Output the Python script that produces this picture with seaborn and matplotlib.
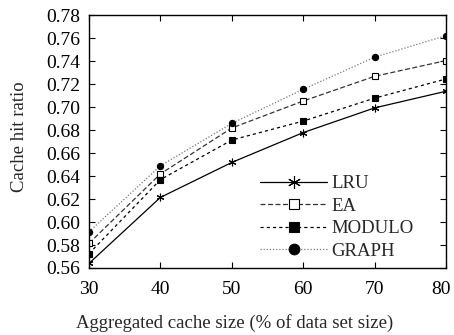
import numpy as np
import pandas as pd
import matplotlib
matplotlib.use("Agg")
import matplotlib.pyplot as plt
import matplotlib.transforms as mtransforms
import seaborn as sns

# data
cache_size = [30, 40, 50, 60, 70, 80]
lru = [0.564, 0.6215, 0.652, 0.678, 0.6995, 0.714]
ea = [0.5815, 0.642, 0.682, 0.7055, 0.727, 0.7407]
modulo = [0.5725, 0.637, 0.6715, 0.688, 0.708, 0.7247]
graph = [0.5915, 0.649, 0.686, 0.7157, 0.7437, 0.7624]

series_names = ["LRU", "EA", "MODULO", "GRAPH"]
series_values = [lru, ea, modulo, graph]

FS = 13.5

sns.set_style("ticks")
plt.rcParams["font.family"] = ["Liberation Serif", "DejaVu Serif"]
plt.rcParams["font.size"] = FS

df = pd.DataFrame({
    "size": np.tile(cache_size, len(series_names)),
    "ratio": np.concatenate(series_values),
    "policy": np.repeat(series_names, len(cache_size)),
})

fig = plt.figure(figsize=(4.54, 3.35), dpi=100)
ax = fig.add_axes([0.196, 0.2, 0.787, 0.754])

styles = {
    "LRU": dict(color="black", ls="-", marker=(6, 2, 0), mfc="black", ms=5.5, lw=0.9),
    "EA": dict(color="#333333", ls=(0, (4, 2)), marker="s", mfc="white", ms=4.5, lw=0.9),
    "MODULO": dict(color="black", ls=(0, (2.5, 2.5)), marker="s", mfc="black", ms=4.5, lw=0.9),
    "GRAPH": dict(color="#777777", ls=(0, (1, 1.5)), marker="o", mfc="black", ms=4.5, lw=0.9),
}

for name in series_names:
    st = styles[name]
    sub = df[df["policy"] == name]
    sns.lineplot(data=sub, x="size", y="ratio", ax=ax, label=name,
                 color=st["color"], linestyle=st["ls"], linewidth=st["lw"],
                 marker=st["marker"], markersize=st["ms"],
                 markerfacecolor=st["mfc"], markeredgecolor="black",
                 markeredgewidth=0.8)

ax.set_xlim(30, 80)
ax.set_ylim(0.56, 0.78)
ax.set_xticks(cache_size)
ax.set_yticks(np.arange(0.56, 0.7801, 0.02))
ax.yaxis.set_major_formatter(matplotlib.ticker.FormatStrFormatter("%.2f"))
ax.tick_params(direction="in", top=True, right=True, length=4, width=0.8,
               labelsize=14, colors="black")
ax.tick_params(axis="x", pad=9.5)
ax.tick_params(axis="y", pad=6.5)
for sp in ax.spines.values():
    sp.set_linewidth(1.0)
    sp.set_color("black")

# nudge the last x tick label left so it stays inside the canvas
last = ax.get_xticklabels()[-1]
last.set_transform(last.get_transform() +
                   mtransforms.ScaledTranslation(-4 / 72, 0, fig.dpi_scale_trans))

ax.set_xlabel("Aggregated cache size (% of data set size)", fontsize=FS)
ax.xaxis.set_label_coords(0.407, -0.182)
ax.set_ylabel("Cache hit ratio", fontsize=FS)
ax.yaxis.set_label_coords(-0.17, 0.518)

ax.legend(loc="lower left", bbox_to_anchor=(0.478, 0.032), frameon=False,
          handlelength=3.6, handletextpad=0.2, labelspacing=0.29,
          markerscale=1.7, fontsize=FS, borderaxespad=0, borderpad=0)

fig.savefig("out.png", dpi=100)
